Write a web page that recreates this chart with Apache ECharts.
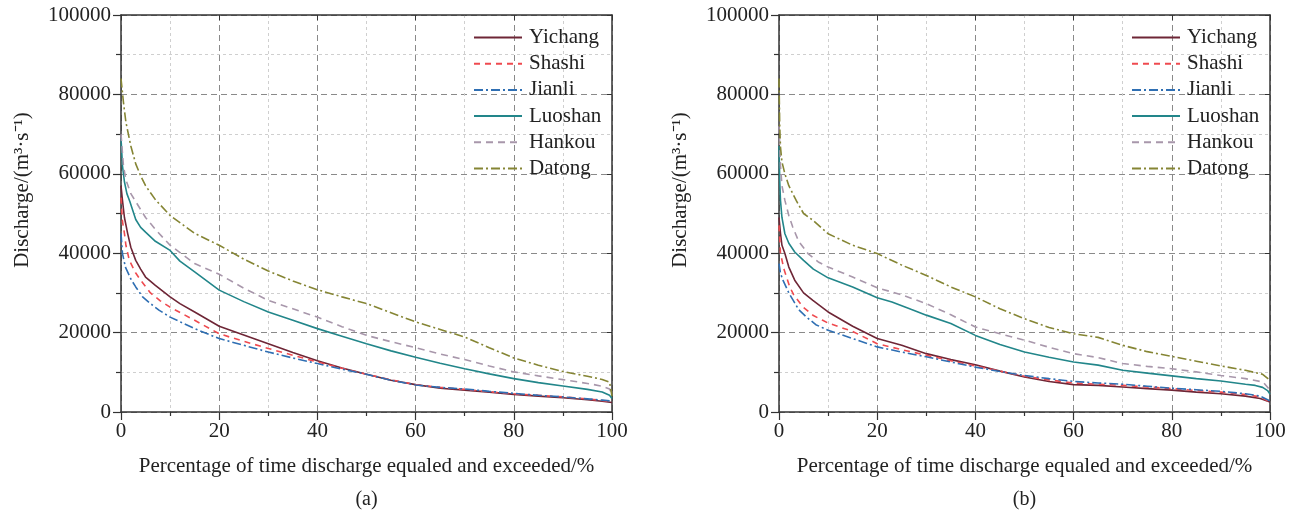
<!DOCTYPE html>
<html><head><meta charset="utf-8">
<script src="https://cdn.jsdelivr.net/npm/echarts@6/dist/echarts.min.js"></script>
<style>html,body{margin:0;padding:0;background:#fff}#c{width:1298px;height:514px}</style>
</head><body><div id="c"></div>
<script>
// ---------- data: [percentage of time, discharge m3/s] ----------
const seriesNames = ['Yichang','Shashi','Jianli','Luoshan','Hankou','Datong'];
const panelLabels = ['(a)','(b)'];
const xTicks = [0,20,40,60,80,100];
const yTicks = [0,20000,40000,60000,80000,100000];

const yichangA = [[0,57000],[0.3,53300],[0.7,49000],[1.35,45000],[2,41500],[3,38200],[4,36000],[5,34000],[7,31900],[10,29000],[12,27300],[15,25200],[20,21600],[25,19400],[30,17200],[35,15000],[40,12900],[45,11100],[50,9500],[55,8000],[60,6900],[65,6000],[70,5500],[75,5000],[80,4450],[85,4000],[90,3600],[95,3100],[98,2700],[100,2400]];
const shashiA = [[0,54000],[0.3,48000],[0.7,45000],[1,42000],[1.7,38200],[3,35000],[4,33200],[6,30000],[8,28000],[10,26400],[15,23100],[20,19700],[25,17800],[30,16000],[35,14300],[40,12600],[45,11000],[50,9500],[55,8100],[60,6900],[65,6200],[70,5700],[75,5100],[80,4600],[85,4200],[90,3800],[95,3300],[98,2900],[100,2500]];
const jianliA = [[0,45000],[0.3,39900],[0.9,36500],[2,33500],[3,31500],[4.4,29000],[6,27300],[7.8,25600],[10,23900],[15,21000],[20,18500],[25,16800],[30,15100],[35,13600],[40,12200],[45,10800],[50,9500],[55,8000],[60,6800],[65,6200],[70,5800],[75,5200],[80,4700],[85,4200],[90,3800],[95,3300],[98,3000],[100,2800]];
const luoshanA = [[0,69000],[0.3,62000],[0.7,58000],[1.2,55000],[1.8,53000],[3,48500],[4,46500],[5,45300],[7,43000],[10,40700],[12,38000],[15,35300],[20,30700],[25,27800],[30,25200],[35,23100],[40,21000],[45,19100],[50,17200],[55,15400],[60,13800],[65,12300],[70,10900],[75,9600],[80,8400],[85,7400],[90,6550],[95,5700],[98,5050],[99.5,4200],[100,3400]];
const hankouA = [[0,70000],[0.5,62000],[1,58500],[2,55000],[3,53000],[5,49000],[7,46000],[10,42000],[15,37400],[20,34700],[25,31200],[30,28100],[35,26000],[40,23900],[45,21500],[50,19300],[55,17700],[60,16200],[65,14600],[70,13200],[75,11600],[80,10100],[85,9100],[90,8150],[95,7200],[98,6500],[99.5,5800],[100,4500]];
const datongA = [[0,84000],[0.5,78000],[1,73000],[2,67000],[3,62500],[4,59500],[5,57000],[7,53500],[10,49500],[15,45000],[20,42000],[25,38500],[30,35500],[35,33000],[40,30800],[45,29000],[50,27300],[55,25000],[60,22700],[65,20800],[70,18900],[75,16200],[80,13600],[85,11800],[90,10200],[95,9000],[98,8200],[99.5,7500],[100,4000]];

const yichangB = [[0,49000],[0.3,45000],[0.6,42000],[1.2,39900],[2,36500],[3.2,33200],[5,30000],[6.9,28100],[10,25200],[15,21600],[20,18500],[25,16800],[30,14700],[35,13200],[40,11900],[45,10300],[50,8800],[55,7700],[60,6900],[65,6700],[70,6300],[75,5900],[80,5500],[85,5000],[90,4600],[95,4000],[98,3400],[100,2500]];
const shashiB = [[0,47000],[0.3,40000],[1,36000],[2.2,31500],[3,29500],[4.9,26400],[7,24300],[8.9,23100],[10,22400],[15,20300],[20,17200],[25,15700],[30,14300],[35,12900],[40,11600],[45,10300],[50,9000],[55,8100],[60,7300],[65,7000],[70,6700],[75,6300],[80,5900],[85,5400],[90,5000],[95,4400],[98,3800],[100,2500]];
const jianliB = [[0,37400],[0.3,35000],[0.8,33200],[2,30000],[2.9,28100],[4,25800],[5.6,23900],[7.5,22000],[10,20600],[15,18500],[20,16400],[25,15100],[30,13900],[35,12600],[40,11300],[45,10200],[50,9200],[55,8400],[60,7700],[65,7300],[70,7000],[75,6500],[80,6000],[85,5600],[90,5200],[95,4600],[98,4000],[100,2800]];
const luoshanB = [[0,67000],[0.15,58000],[0.3,53300],[0.6,49000],[1.2,44900],[2,42500],[3.2,40300],[5,38200],[7,36000],[10,33800],[15,31500],[20,28800],[23,27700],[27,25800],[30,24400],[35,22300],[40,19300],[45,17000],[50,15100],[55,13800],[60,12600],[65,11800],[70,10500],[75,9800],[80,9100],[85,8400],[90,7800],[95,7000],[97,6700],[98.5,6200],[99.5,5400],[100,4500]];
const hankouB = [[0,72000],[0.3,62000],[0.6,57000],[1.2,53300],[2,49500],[2.8,46600],[4,43000],[5.9,39900],[8,37800],[10,36500],[15,34000],[20,31300],[25,29500],[30,27300],[35,24500],[40,21400],[45,19700],[50,18100],[55,16300],[60,14700],[65,13700],[70,12200],[75,11500],[80,10900],[85,10100],[90,9200],[95,8400],[98.6,7550],[100,5500]];
const datongB = [[0,84000],[0.15,72000],[0.3,66800],[0.6,63000],[1.2,60000],[2,57000],[3.5,53300],[5,50000],[6.9,48300],[10,44900],[15,42000],[20,39900],[25,37000],[30,34400],[35,31500],[40,29000],[45,26000],[50,23500],[55,21300],[60,19700],[65,18800],[70,16800],[75,15200],[80,14000],[85,12800],[90,11600],[95,10500],[98.5,9500],[100,8000]];

// ---------- styles ----------
const FONT = 'Liberation Serif';
const styles = {
  Yichang: {color:'#6e2636', type:'solid'},
  Shashi:  {color:'#ef4a4f', type:[6,5]},
  Jianli:  {color:'#2f6fb3', type:[9,3,2,3]},
  Luoshan: {color:'#22868a', type:'solid'},
  Hankou:  {color:'#a897ab', type:[7,5]},
  Datong:  {color:'#858534', type:[9,3,2,3]}
};
const panels = [
  {left:121, data:[yichangA,shashiA,jianliA,luoshanA,hankouA,datongA]},
  {left:779, data:[yichangB,shashiB,jianliB,luoshanB,hankouB,datongB]}
];
const GW = 491, GH = 397, GT = 15;

const grids = [], xAxes = [], yAxes = [], series = [], legends = [], graphics = [];
panels.forEach((p, pi) => {
  grids.push({left:p.left, top:GT, width:GW, height:GH});
  xAxes.push({gridIndex:pi, type:'value', min:xTicks[0], max:xTicks[xTicks.length-1], interval:20, position:'bottom',
    axisLine:{show:true, onZero:false, lineStyle:{color:'#333', width:1.5}},
    axisTick:{show:true, inside:false, length:8, lineStyle:{color:'#333', width:1.2}},
    minorTick:{show:true, splitNumber:2, length:4, lineStyle:{color:'#333', width:1.2}},
    axisLabel:{color:'#222', fontFamily:FONT, fontSize:21, margin:9, formatter:v => String(v)},
    splitLine:{show:true, lineStyle:{color:'#8a8a8a', type:[6,4], width:1}},
    minorSplitLine:{show:true, lineStyle:{color:'#cfcfcf', type:[3,3], width:1}}
  });
  xAxes.push({gridIndex:pi, type:'value', min:0, max:100, interval:20, position:'top',
    axisLine:{show:true, onZero:false, lineStyle:{color:'#333', width:1.5}},
    axisTick:{show:true, inside:true, length:5, lineStyle:{color:'#333'}},
    minorTick:{show:false}, axisLabel:{show:false}, splitLine:{show:false}
  });
  yAxes.push({gridIndex:pi, type:'value', min:yTicks[0], max:yTicks[yTicks.length-1], interval:20000, position:'left',
    axisLine:{show:true, onZero:false, lineStyle:{color:'#333', width:1.5}},
    axisTick:{show:true, inside:false, length:8, lineStyle:{color:'#333', width:1.2}},
    minorTick:{show:true, splitNumber:2, length:5, lineStyle:{color:'#333', width:1.2}},
    axisLabel:{color:'#222', fontFamily:FONT, fontSize:21, margin:10, formatter:v => String(v)},
    splitLine:{show:true, lineStyle:{color:'#8a8a8a', type:[6,4], width:1}},
    minorSplitLine:{show:true, lineStyle:{color:'#cfcfcf', type:[3,3], width:1}}
  });
  yAxes.push({gridIndex:pi, type:'value', min:0, max:100000, interval:20000, position:'right',
    axisLine:{show:true, onZero:false, lineStyle:{color:'#333', width:1.5}},
    axisTick:{show:true, inside:true, length:5, lineStyle:{color:'#333'}},
    minorTick:{show:false}, axisLabel:{show:false}, splitLine:{show:false}
  });
  seriesNames.forEach((n, si) => {
    series.push({name:n, type:'line', xAxisIndex:pi*2, yAxisIndex:pi*2, data:p.data[si],
      symbol:'none', showSymbol:false, smooth:false, silent:true, animation:false,
      itemStyle:{color:styles[n].color},
      lineStyle:{color:styles[n].color, width:1.6, type:styles[n].type}, z:3});
  });
  legends.push({orient:'vertical', left:p.left + 347, top:22, itemWidth:48, itemHeight:14, itemGap:5.2,
    data:seriesNames, selectedMode:false, itemStyle:{opacity:0},
    textStyle:{color:'#222', fontFamily:FONT, fontSize:21, lineHeight:19, padding:[0,0,0,2]}});
  const cx = p.left + GW/2;
  graphics.push({type:'text', x:cx, y:466, style:{text:'Percentage of time discharge equaled and exceeded/%', fill:'#222', font:'21px "Liberation Serif"', align:'center', verticalAlign:'middle'}});
  graphics.push({type:'text', x:cx, y:500, style:{text:panelLabels[pi], fill:'#222', font:'20px "Liberation Serif"', align:'center', verticalAlign:'middle'}});
  graphics.push({type:'text', x:p.left - 99, y:190, rotation:Math.PI/2, style:{text:'Discharge/(m³·s⁻¹)', fill:'#222', font:'21px "Liberation Serif"', align:'center', verticalAlign:'middle'}});
});

const chart = echarts.init(document.getElementById('c'), null, {renderer:'canvas'});
chart.setOption({animation:false, grid:grids, xAxis:xAxes, yAxis:yAxes, series:series, legend:legends, graphic:graphics});
</script></body></html>
